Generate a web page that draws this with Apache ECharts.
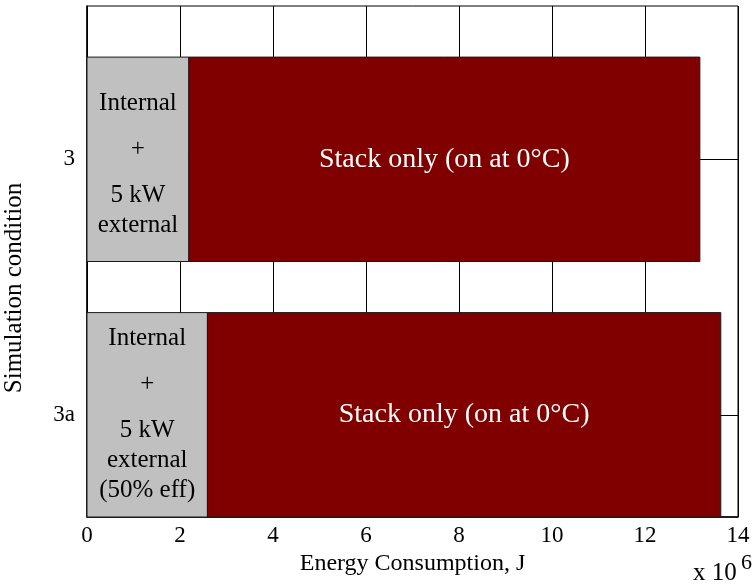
<!DOCTYPE html>
<html>
<head>
<meta charset="utf-8">
<script src="https://cdn.jsdelivr.net/npm/echarts@6/dist/echarts.min.js"></script>
<style>html,body{margin:0;padding:0;background:#fff}#c{width:754px;height:584px}</style>
</head>
<body>
<div id="c"></div>
<script>
// Categories (bottom to top) and their positions on the y axis
const categories = ['3a', '3'];
const categoryPos = [1, 2];
// Energy consumption, x 10^6 J
const internalValues = [2.59, 2.19];
const stackValues = [11.04, 10.99];
// Segment labels
const internalLabels = [
  ['Internal', '+', '5 kW', 'external', '(50% eff)'],
  ['Internal', '+', '5 kW', 'external']
];
const stackLabels = ['Stack only (on at 0°C)', 'Stack only (on at 0°C)'];
// Axis ticks
const xTicks = [0, 2, 4, 6, 8, 10, 12, 14];

const SERIF = '"Liberation Serif", "Times New Roman", Times, serif';

function internalRich(lines) {
  const parts = [];
  if (lines.length < 5) parts.push('{sp2| }');
  lines.forEach((l, i) => {
    parts.push('{t|' + l + '}');
    if (i < 2) parts.push('{sp| }');
  });
  return parts.join('\n');
}

const internalData = categories.map((c, i) => [categoryPos[i], 0, internalValues[i], i]);
const stackData = categories.map((c, i) => [categoryPos[i], internalValues[i], internalValues[i] + stackValues[i], i]);

function makeRender(fill, textColor, isInternal) {
  return function (params, api) {
    const y = api.value(0), x0 = api.value(1), x1 = api.value(2), idx = api.value(3);
    const p0 = api.coord([x0, y]);
    const p1 = api.coord([x1, y]);
    const h = api.size([0, 0.8])[1];
    const text = isInternal ? internalRich(internalLabels[idx]) : stackLabels[idx];
    return {
      type: 'rect',
      shape: { x: p0[0], y: p0[1] - h / 2, width: p1[0] - p0[0], height: h },
      style: { fill: fill, stroke: '#1a1a1a', lineWidth: 1 },
      textContent: {
        style: isInternal ? {
          text: text,
          fill: textColor,
          align: 'center',
          verticalAlign: 'middle',
          rich: {
            t: { fontFamily: SERIF, fontSize: 25, lineHeight: 30, fill: textColor },
            sp: { fontFamily: SERIF, fontSize: 10, lineHeight: 16, fill: textColor },
            sp2: { fontFamily: SERIF, fontSize: 8, lineHeight: 10, fill: textColor }
          }
        } : {
          text: text,
          fill: textColor,
          fontFamily: SERIF,
          fontSize: 28,
          align: 'center',
          verticalAlign: 'middle'
        }
      },
      textConfig: { position: 'inside' }
    };
  };
}

const chart = echarts.init(document.getElementById('c'), null, { renderer: 'canvas' });
chart.setOption({
  animation: false,
  backgroundColor: '#fff',
  textStyle: { fontFamily: SERIF },
  grid: { left: 87, right: 16, top: 6, bottom: 67, outerBoundsMode: 'none', containLabel: false,
    show: true, borderColor: '#000', borderWidth: 1, backgroundColor: 'transparent' },
  xAxis: {
    type: 'value', min: 0, max: 14, interval: 2,
    name: 'Energy Consumption, J', nameLocation: 'middle', nameGap: 34,
    nameTextStyle: { fontFamily: SERIF, fontSize: 24, color: '#000' },
    axisLine: { show: true, lineStyle: { color: '#000', width: 1.5 } },
    axisTick: { show: false },
    axisLabel: { fontFamily: SERIF, fontSize: 23, color: '#000', margin: 7,
      formatter: v => String(v) },
    splitLine: { show: true, lineStyle: { color: '#000', width: 1 } }
  },
  yAxis: {
    type: 'value', min: 0.6, max: 2.6,
    axisLine: { show: true, lineStyle: { color: '#000', width: 1.5 } },
    axisTick: { show: false, customValues: categoryPos },
    axisLabel: { fontFamily: SERIF, fontSize: 23, color: '#000', margin: 12,
      customValues: categoryPos,
      formatter: v => categories[categoryPos.indexOf(v)] || '' },
    splitLine: { show: true, lineStyle: { color: '#000', width: 1 } }
  },
  graphic: [
    { type: 'text', x: 14, y: 288, rotation: Math.PI / 2,
      style: { text: 'Simulation condition', fontFamily: SERIF, fontSize: 25, fill: '#000', align: 'center', verticalAlign: 'middle' } },
    { type: 'text', x: 693, y: 573,
      style: { text: 'x 10', fontFamily: SERIF, fontSize: 25, fill: '#000', align: 'left', verticalAlign: 'middle' } },
    { type: 'text', x: 741, y: 563,
      style: { text: '6', fontFamily: SERIF, fontSize: 22, fill: '#000', align: 'left', verticalAlign: 'middle' } }
  ],
  series: [
    { type: 'custom', name: 'Internal + external', data: internalData,
      encode: { x: [1, 2], y: 0 }, renderItem: makeRender('#c0c0c0', '#000', true) },
    { type: 'custom', name: 'Stack only', data: stackData,
      encode: { x: [1, 2], y: 0 }, renderItem: makeRender('#800000', '#fff', false) }
  ]
});
</script>
</body>
</html>
